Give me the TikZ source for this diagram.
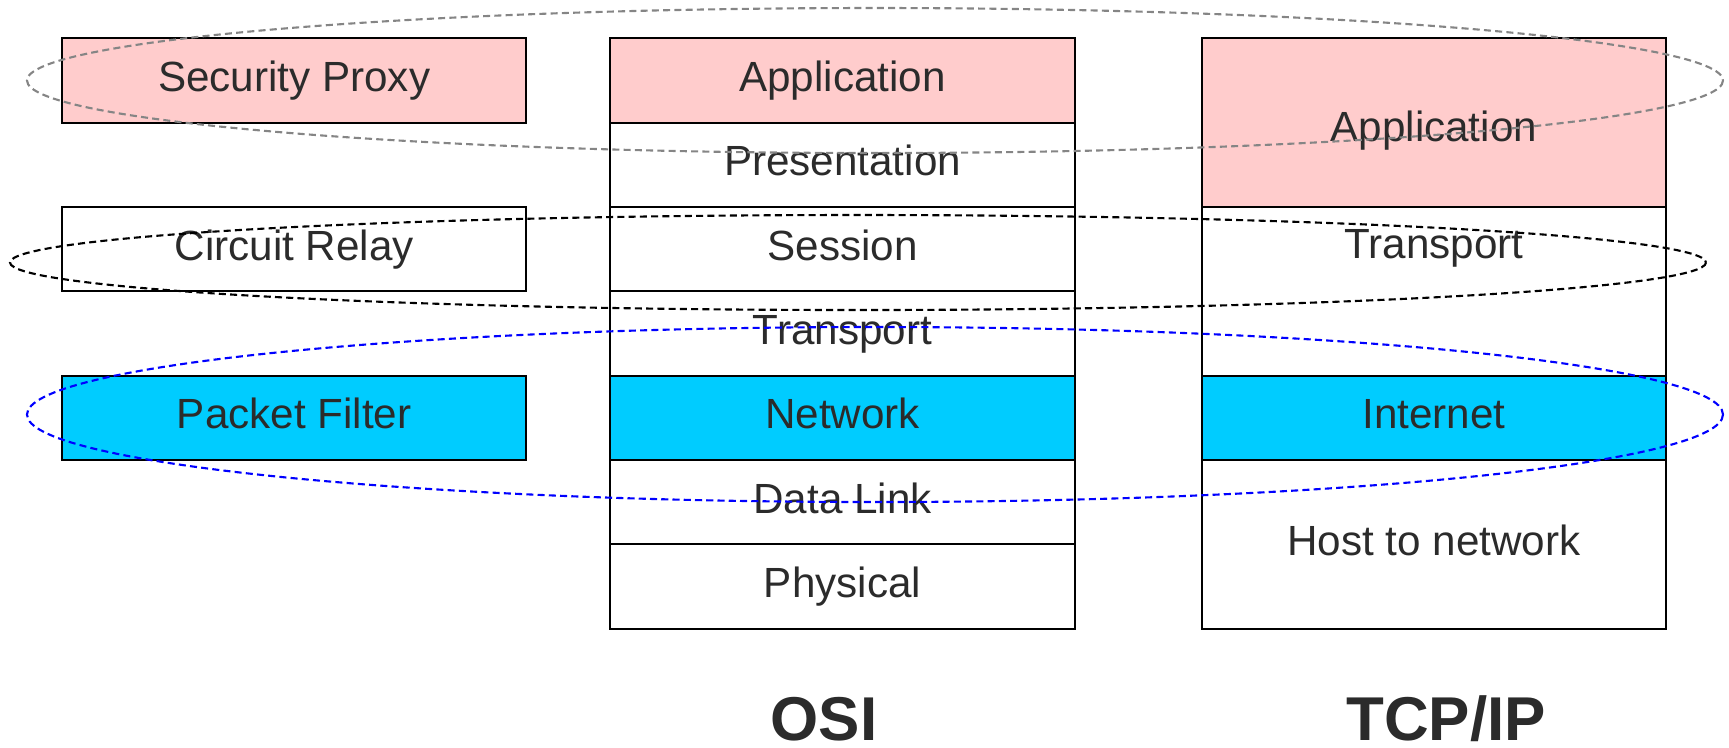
\documentclass[tikz,border=0pt]{standalone}
\usepackage{fontspec}
\setmainfont{Liberation Sans}
\usetikzlibrary{positioning}

\definecolor{proxypink}{HTML}{FFCCCC}
\definecolor{filtercyan}{HTML}{00CCFF}
\definecolor{labelgray}{HTML}{2B2B2B}
\definecolor{ringgray}{HTML}{858585}

\tikzset{
  layer/.style={draw=black, line width=0.6pt, minimum width=4.64cm, minimum height=0.843cm,
    inner sep=0pt, outer sep=0pt, text=labelgray, font=\fontsize{12}{14}\selectfont,
    text height=8.8pt, text depth=2.5pt},
  biglayer/.style={layer, minimum height=1.686cm},
  ring/.style={line width=0.6pt, dash pattern=on 2pt off 1.2pt},
  stackname/.style={anchor=base, text=labelgray, font=\fontsize{17.6}{20}\selectfont\bfseries}
}

\begin{document}
\begin{tikzpicture}[x=0.01cm, y=-0.01cm]
\useasboundingbox (0,0) rectangle (1729,747);

% Стек OSI
\node[layer, fill=proxypink] (osiapp) at (842.5,80.5) {Application};
\node[layer, below=0pt of osiapp] (osipres) {Presentation};
\node[layer, below=0pt of osipres] (osises) {Session};
\node[layer, below=0pt of osises] (ositrans) {Transport};
\node[layer, fill=filtercyan, below=0pt of ositrans] (osinet) {Network};
\node[layer, below=0pt of osinet] (osilink) {Data Link};
\node[layer, below=0pt of osilink] (osiphys) {Physical};

% Межсетевые экраны
\node[layer, fill=proxypink, left=0.84cm of osiapp] (proxy) {Security Proxy};
\node[layer, left=0.84cm of osises] (relay) {Circuit Relay};
\node[layer, fill=filtercyan, left=0.84cm of osinet] (filter) {Packet Filter};

% Стек TCP/IP
\node[biglayer, fill=proxypink, anchor=north west, text height=13.3pt] (tcpapp)
  at ([xshift=1.27cm]osiapp.north east) {Application};
\node[biglayer, below=0pt of tcpapp, text depth=27.6pt] (tcptrans) {Transport};
\node[layer, fill=filtercyan, below=0pt of tcptrans] (tcpnet) {Internet};
\node[biglayer, below=0pt of tcpnet] (tcphost) {Host to network};

% Подписи
\node[stackname] (osiname) at (824,740) {OSI};
\node[stackname] (tcpname) at (1446,740) {TCP/IP};

% Овалы уровней
\draw[ring, ringgray] (875,80.5) ellipse [x radius=848, y radius=72.5];
\draw[ring, black] (858,262.5) ellipse [x radius=848, y radius=47.5];
\draw[ring, blue] (875,414.5) ellipse [x radius=848, y radius=87.5];
\end{tikzpicture}
\end{document}
